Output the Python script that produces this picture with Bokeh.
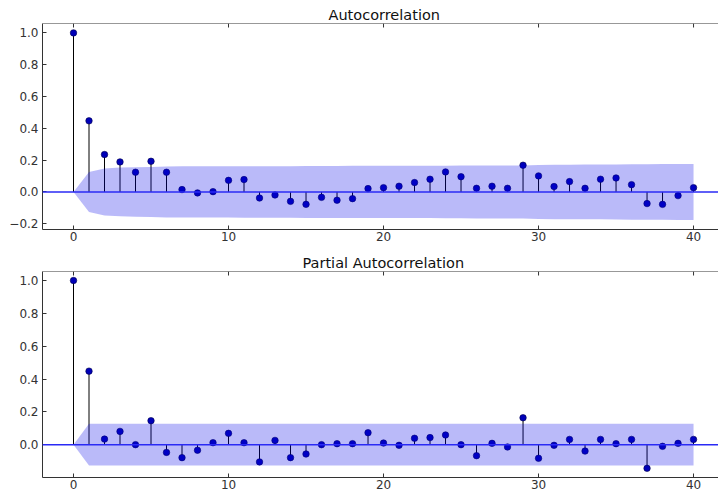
from bokeh.plotting import figure
from bokeh.layouts import column
from bokeh.models import (LinearAxis, FixedTicker, Range1d, Span,
                          CustomJSTickFormatter, ColumnDataSource)
from bokeh.embed import file_html
from bokeh.resources import INLINE

# ---------------- data ----------------
lags = list(range(41))

acf_vals = [1.0, 0.447, 0.235, 0.189, 0.124, 0.193, 0.124, 0.015, -0.006, 0.002,
            0.073, 0.078, -0.038, -0.019, -0.059, -0.078, -0.034, -0.052, -0.042, 0.021,
            0.027, 0.036, 0.059, 0.080, 0.126, 0.096, 0.023, 0.036, 0.023, 0.168,
            0.101, 0.034, 0.065, 0.023, 0.080, 0.088, 0.046, -0.073, -0.078, -0.023,
            0.027]

# half-width of the ACF confidence band at each lag
acf_conf = [0.0, 0.126, 0.148, 0.153, 0.156, 0.157, 0.160, 0.161, 0.161, 0.161,
            0.161, 0.162, 0.162, 0.162, 0.162, 0.163, 0.163, 0.163, 0.164, 0.164,
            0.164, 0.164, 0.164, 0.164, 0.165, 0.166, 0.167, 0.167, 0.167, 0.167,
            0.170, 0.171, 0.171, 0.172, 0.172, 0.173, 0.174, 0.174, 0.175, 0.176,
            0.176]

pacf_vals = [1.0, 0.448, 0.034, 0.081, 0.0, 0.146, -0.047, -0.079, -0.034, 0.012,
             0.069, 0.012, -0.105, 0.026, -0.079, -0.057, 0.0, 0.006, 0.006, 0.073,
             0.010, -0.004, 0.039, 0.043, 0.059, 0.0, -0.067, 0.008, -0.014, 0.164,
             -0.083, -0.004, 0.032, -0.039, 0.032, 0.006, 0.032, -0.144, -0.010, 0.008,
             0.032]

pacf_conf = [0.0] + [0.127] * 40

x_ticks = [0, 10, 20, 30, 40]
acf_yticks = [-0.2, 0.0, 0.2, 0.4, 0.6, 0.8, 1.0]
pacf_yticks = [0.0, 0.2, 0.4, 0.6, 0.8, 1.0]

titles = ["Autocorrelation", "Partial Autocorrelation"]

FONT = "DejaVu Sans"
TXT = "#333333"


def make_fig(title, vals, conf, yrange, yticks, height, btop, bbot, title_off):
    p = figure(width=718, height=height,
               x_range=Range1d(-2, 41.61), y_range=Range1d(*yrange),
               output_backend="svg", toolbar_location=None,
               x_axis_location=None, y_axis_location=None,
               min_border_left=42, min_border_right=0,
               min_border_top=btop, min_border_bottom=bbot)
    p.outline_line_color = None
    p.grid.grid_line_color = None
    p.background_fill_color = "white"
    p.border_fill_color = "white"

    fmt1 = CustomJSTickFormatter(code="return tick.toFixed(1).replace('-', '\u2212');")
    fmt0 = CustomJSTickFormatter(code="return tick.toFixed(0);")

    left = LinearAxis(ticker=FixedTicker(ticks=yticks), formatter=fmt1,
                      major_tick_in=4, major_tick_out=0,
                      minor_tick_in=0, minor_tick_out=0,
                      major_label_standoff=4,
                      major_label_text_font=FONT,
                      major_label_text_font_size="12px",
                      major_label_text_color=TXT,
                      axis_line_color=TXT, major_tick_line_color=TXT)
    p.add_layout(left, "left")

    below = LinearAxis(ticker=FixedTicker(ticks=x_ticks), formatter=fmt0,
                       major_tick_in=4, major_tick_out=0,
                       minor_tick_in=0, minor_tick_out=0,
                       major_label_standoff=2,
                       major_label_text_font=FONT,
                       major_label_text_font_size="12px",
                       major_label_text_color=TXT,
                       axis_line_color=TXT, major_tick_line_color=TXT)
    p.add_layout(below, "below")

    p.title.text = title
    p.title.align = "left"
    p.title.offset = title_off
    p.title.text_font = FONT
    p.title.text_font_size = "14.5px"
    p.title.text_font_style = "normal"
    p.title.text_color = "#111111"
    p.title.standoff = 1

    src = ColumnDataSource(dict(
        lag=lags, val=vals, base=[0.0] * len(lags),
        lo=[-c for c in conf], hi=list(conf)))

    p.segment(x0="lag", y0="base", x1="lag", y1="val", source=src,
              line_color="black", line_width=1)
    p.scatter(x="lag", y="val", source=src, size=6.5,
              fill_color="#0000b8", line_color="#00004d", line_width=0.6)
    p.add_layout(Span(location=0, dimension="width",
                      line_color="#2a2af5", line_width=1.5))
    p.varea(x="lag", y1="lo", y2="hi", source=src,
            fill_color="#0000e8", fill_alpha=0.27)

    # top frame edge with inward ticks
    p.add_layout(Span(location=yrange[1], dimension="width",
                      line_color=TXT, line_width=1))
    p.ray(x=x_ticks, y=[yrange[1]] * len(x_ticks), length=4,
          length_units="screen", angle=-90, angle_units="deg",
          line_color=TXT, line_width=1)
    return p


p1 = make_fig(titles[0], acf_vals, acf_conf, (-0.236, 1.059), acf_yticks,
              250, 23, 21, 286)
p2 = make_fig(titles[1], pacf_vals, pacf_conf, (-0.2, 1.055), pacf_yticks,
              245, 21, 18, 260)

layout = column(p1, p2, spacing=0)
open("out.html", "w").write(file_html(layout, INLINE))
